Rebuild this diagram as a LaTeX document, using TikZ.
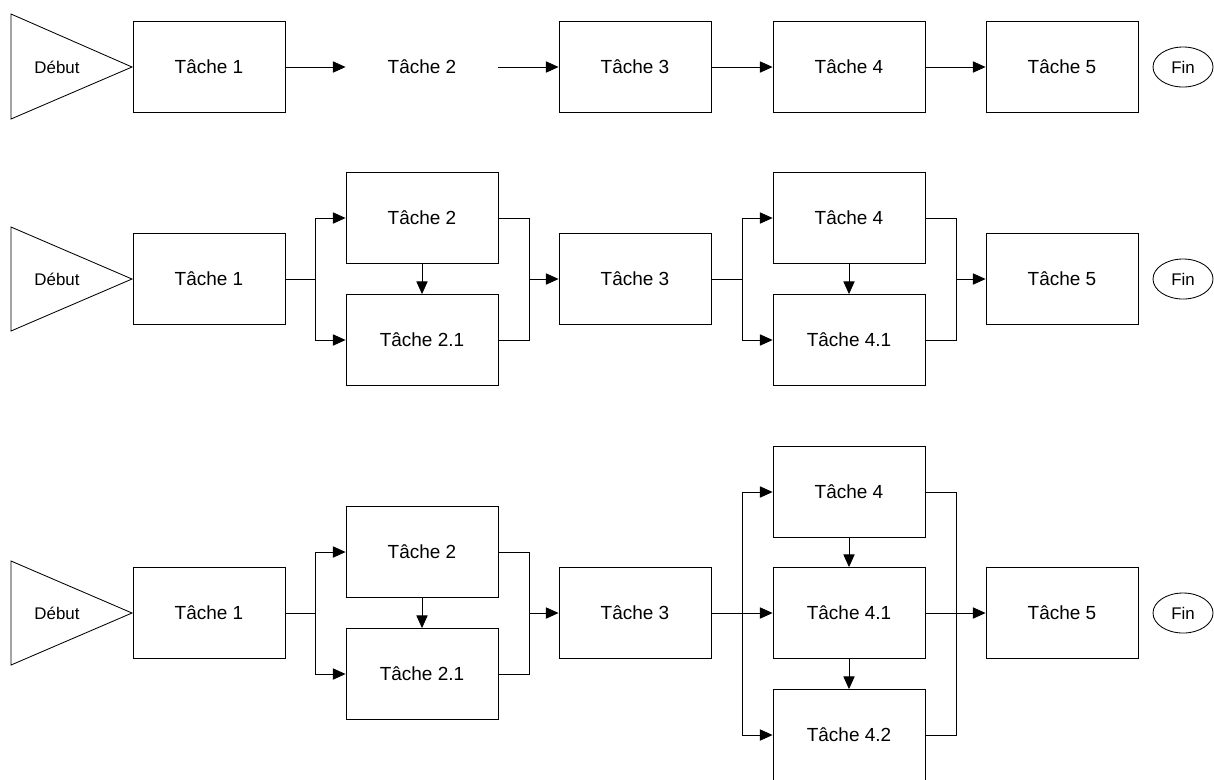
\documentclass[tikz,border=0pt]{standalone}
\usepackage{fontspec}
\setmainfont{Liberation Sans}
\usetikzlibrary{arrows.meta}
\usetikzlibrary{math}
\usetikzlibrary{shapes.geometric}

\tikzset{
 tache/.style={draw, line width=0.6pt, minimum width=3.8cm, minimum height=2.275cm,
   inner sep=0pt, font=\fontsize{13.5}{16}\selectfont},
 vide/.style={tache, draw=none},
 fin/.style={draw, line width=0.6pt, ellipse, minimum width=1.5cm, minimum height=1cm,
   inner sep=0pt, font=\fontsize{12}{14}\selectfont},
 debut/.style={font=\fontsize{12}{14}\selectfont, inner sep=0pt},
 fleche/.style={-{Triangle[length=9pt,width=8pt]}, line width=0.6pt},
 trait/.style={line width=0.6pt},
}

\begin{document}
\begin{tikzpicture}[x=0.025cm,y=-0.025cm]
\tikzmath{
\rA=67;
\rB=279;
\rC=613;
}
\useasboundingbox (0,0) rectangle (1214,779);

 %ligne 1:
 \draw[trait] (11,\rA-53) -- (132,\rA) -- (11,\rA+52) -- cycle;
 \node[debut] (a0) at (57,\rA) {Début};
 \node[tache] (a1) at (209,\rA) {Tâche 1};
 \node[vide] (a2) at (422,\rA) {Tâche 2};
 \node[tache] (a3) at (635,\rA) {Tâche 3};
 \node[tache] (a4) at (849,\rA) {Tâche 4};
 \node[tache] (a5) at (1062,\rA) {Tâche 5};
 \node[fin] (a6) at (1183,\rA) {Fin};

 \draw[fleche] (a1) -- (a2);
 \draw[fleche] (a2) -- (a3);
 \draw[fleche] (a3) -- (a4);
 \draw[fleche] (a4) -- (a5);

 %ligne 2:
 \draw[trait] (11,\rB-52) -- (132,\rB) -- (11,\rB+52) -- cycle;
 \node[debut] (b0) at (57,\rB) {Début};
 \node[tache] (b1) at (209,\rB) {Tâche 1};
 \node[tache] (b2) at (422,\rB-61) {Tâche 2};
 \node[tache] (b21) at (422,\rB+61) {Tâche 2.1};
 \node[tache] (b3) at (635,\rB) {Tâche 3};
 \node[tache] (b4) at (849,\rB-61) {Tâche 4};
 \node[tache] (b41) at (849,\rB+61) {Tâche 4.1};
 \node[tache] (b5) at (1062,\rB) {Tâche 5};
 \node[fin] (b6) at (1183,\rB) {Fin};

 \coordinate (bs1) at (315,\rB);
 \coordinate (bm1) at (529,\rB);
 \coordinate (bs2) at (742,\rB);
 \coordinate (bm2) at (956,\rB);

 \draw[trait] (b1) -- (bs1);
 \draw[fleche] (bs1) |- (b2);
 \draw[fleche] (bs1) |- (b21);
 \draw[fleche] (b2) -- (b21);
 \draw[trait] (b2) -| (bm1);
 \draw[trait] (b21) -| (bm1);
 \draw[fleche] (bm1) -- (b3);
 \draw[trait] (b3) -- (bs2);
 \draw[fleche] (bs2) |- (b4);
 \draw[fleche] (bs2) |- (b41);
 \draw[fleche] (b4) -- (b41);
 \draw[trait] (b4) -| (bm2);
 \draw[trait] (b41) -| (bm2);
 \draw[fleche] (bm2) -- (b5);

 %ligne 3:
 \draw[trait] (11,\rC-52) -- (132,\rC) -- (11,\rC+52) -- cycle;
 \node[debut] (c0) at (57,\rC) {Début};
 \node[tache] (c1) at (209,\rC) {Tâche 1};
 \node[tache] (c2) at (422,\rC-61) {Tâche 2};
 \node[tache] (c21) at (422,\rC+61) {Tâche 2.1};
 \node[tache] (c3) at (635,\rC) {Tâche 3};
 \node[tache] (c4) at (849,\rC-121) {Tâche 4};
 \node[tache] (c41) at (849,\rC) {Tâche 4.1};
 \node[tache] (c42) at (849,\rC+122) {Tâche 4.2};
 \node[tache] (c5) at (1062,\rC) {Tâche 5};
 \node[fin] (c6) at (1183,\rC) {Fin};

 \coordinate (cs1) at (315,\rC);
 \coordinate (cm1) at (529,\rC);
 \coordinate (cs2) at (742,\rC);
 \coordinate (cm2) at (956,\rC);

 \draw[trait] (c1) -- (cs1);
 \draw[fleche] (cs1) |- (c2);
 \draw[fleche] (cs1) |- (c21);
 \draw[fleche] (c2) -- (c21);
 \draw[trait] (c2) -| (cm1);
 \draw[trait] (c21) -| (cm1);
 \draw[fleche] (cm1) -- (c3);
 \draw[fleche] (c3) -- (c41);
 \draw[fleche] (cs2) |- (c4);
 \draw[fleche] (cs2) |- (c42);
 \draw[fleche] (c4) -- (c41);
 \draw[fleche] (c41) -- (c42);
 \draw[trait] (c4) -| (cm2);
 \draw[trait] (c42) -| (cm2);
 \draw[fleche] (c41) -- (c5);

\end{tikzpicture}
\end{document}
